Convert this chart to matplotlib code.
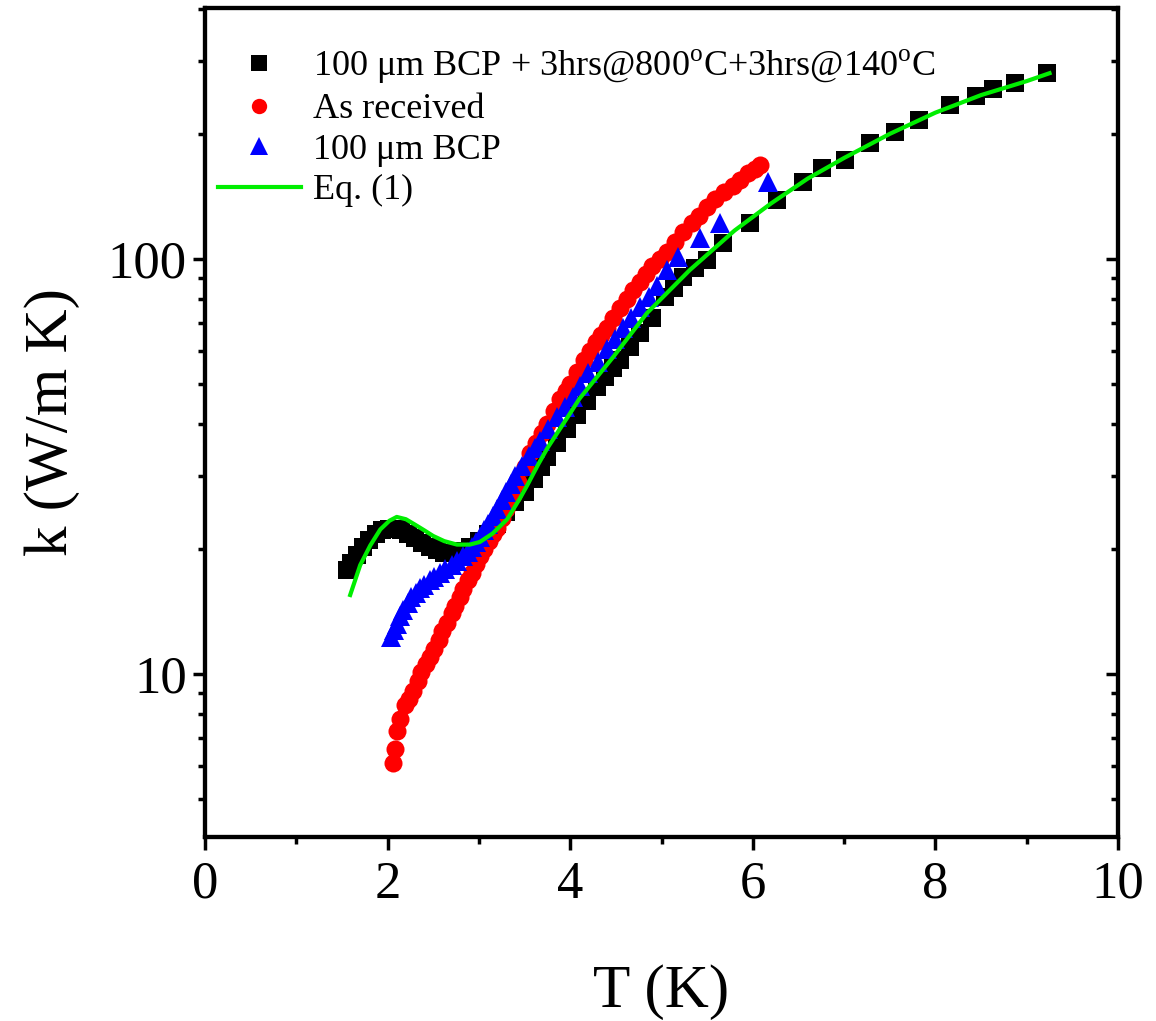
import matplotlib
matplotlib.use("Agg")
import matplotlib.pyplot as plt
from matplotlib.ticker import MultipleLocator, LogLocator, NullFormatter, FixedLocator, FixedFormatter

plt.rcParams['font.family'] = ['Liberation Serif', 'DejaVu Serif']

# 100 um BCP + 3hrs@800C + 3hrs@140C (black squares)
t_black = [1.55, 1.60, 1.66, 1.73, 1.80, 1.87, 1.94, 2.01, 2.08, 2.15, 2.22, 2.30,
           2.38, 2.46, 2.54, 2.62, 2.70, 2.80, 2.90, 3.00, 3.10, 3.20, 3.30, 3.40,
           3.50, 3.60, 3.68, 3.75, 3.86, 3.96, 4.07, 4.18, 4.29, 4.38, 4.47, 4.55,
           4.66, 4.76, 4.90, 5.04, 5.14, 5.24, 5.37, 5.50, 5.67, 5.97, 6.27, 6.55,
           6.76, 7.01, 7.28, 7.56, 7.82, 8.16, 8.44, 8.63, 8.87, 9.22]
k_black = [17.8, 18.5, 19.3, 20.2, 21.0, 21.7, 22.2, 22.4, 22.4, 22.2, 21.8, 21.3,
           20.7, 20.2, 19.9, 19.6, 19.6, 19.8, 20.2, 20.9, 21.8, 23.0, 24.5, 26.0,
           27.5, 29.5, 31.5, 33.4, 36.0, 39.0, 42.0, 45.5, 49.2, 52.0, 54.5, 57.0,
           61.5, 66.3, 72.0, 81.0, 85.0, 90.5, 95.0, 99.4, 109, 122, 138.7, 153,
           165.6, 173, 190, 202, 216, 235, 247, 257, 265.6, 280.6]

# As received (red circles)
t_red = [2.06, 2.08, 2.10, 2.14, 2.19, 2.23, 2.28, 2.33, 2.37, 2.42, 2.46, 2.51,
         2.56, 2.60, 2.65, 2.70, 2.74, 2.79, 2.83, 2.88, 2.92, 2.97, 3.01, 3.06,
         3.11, 3.15, 3.20, 3.25, 3.30, 3.37, 3.43, 3.50, 3.56, 3.63, 3.69, 3.75,
         3.82, 3.89, 3.95, 4.00, 4.07, 4.15, 4.22, 4.28, 4.34, 4.40, 4.47, 4.55,
         4.62, 4.69, 4.76, 4.83, 4.90, 4.98, 5.06, 5.15, 5.24, 5.33, 5.41, 5.50,
         5.59, 5.69, 5.78, 5.86, 5.95, 6.02, 6.08]
k_red = [6.1, 6.6, 7.3, 7.8, 8.4, 8.7, 9.1, 9.6, 10.1, 10.6, 11.0, 11.5,
         12.1, 12.7, 13.3, 14.0, 14.6, 15.3, 16.0, 16.8, 17.5, 18.4, 19.2, 20.0,
         20.9, 21.7, 22.5, 23.7, 25.0, 27.0, 29.0, 31.5, 34.0, 36.0, 38.0, 40.0,
         43.0, 46.0, 48.0, 50.0, 53.5, 57.0, 60.0, 63.0, 65.5, 68.0, 72.0, 76.0,
         80.0, 84.0, 88.0, 92.0, 96.0, 100, 104, 110, 116, 122, 127, 133,
         139, 145, 150, 155, 161, 165, 168]

# 100 um BCP (blue triangles)
t_blue = [2.04, 2.07, 2.10, 2.14, 2.17, 2.22, 2.26, 2.31, 2.35, 2.40, 2.46, 2.51,
          2.57, 2.63, 2.70, 2.76, 2.83, 2.88, 2.92, 2.97, 3.01, 3.06, 3.10, 3.15,
          3.20, 3.25, 3.30, 3.35, 3.40, 3.47, 3.55, 3.61, 3.67, 3.76, 3.85, 3.94,
          4.03, 4.11, 4.20, 4.30, 4.40, 4.49, 4.58, 4.67, 4.76, 4.86, 4.95, 5.06,
          5.18, 5.42, 5.64, 6.17]
k_blue = [12.3, 12.8, 13.2, 13.8, 14.3, 14.8, 15.3, 15.7, 16.1, 16.4, 16.8, 17.1,
          17.5, 17.9, 18.3, 18.7, 19.2, 19.7, 20.2, 20.8, 21.4, 22.2, 23.0, 24.0,
          25.0, 26.2, 27.5, 28.7, 30.0, 31.7, 33.5, 35.0, 36.5, 39.0, 41.5, 44.0,
          46.5, 49.5, 53.0, 56.5, 60.5, 64.0, 68.0, 72.0, 76.5, 81.0, 86.0, 94.0,
          101, 112, 122, 153]

# Eq. (1) fit (green line)
t_fit = [1.59, 1.70, 1.81, 1.92, 2.02, 2.10, 2.20, 2.30, 2.40, 2.50, 2.62, 2.76,
         2.90, 3.01, 3.15, 3.31, 3.45, 3.53, 3.65, 3.75, 4.00, 4.10, 4.47, 4.84,
         5.31, 5.80, 6.20, 6.60, 7.00, 7.50, 8.00, 8.50, 9.00, 9.25]
k_fit = [15.5, 18.3, 20.4, 22.3, 23.4, 23.9, 23.6, 22.9, 22.2, 21.5, 20.9, 20.5,
         20.5, 20.8, 21.8, 23.6, 26.5, 28.5, 32.0, 35.0, 42.5, 46.0, 58.0, 74.0,
         94.0, 117, 136, 156, 175, 200, 225, 248, 268, 280]

labels = ['100 μm BCP + 3hrs@800$^{\\rm o}$C+3hrs@140$^{\\rm o}$C', 'As received',
          '100 μm BCP', 'Eq. (1)']

plt.rcParams['mathtext.fontset'] = 'custom'
plt.rcParams['mathtext.rm'] = 'Liberation Serif'

fig = plt.figure(figsize=(11.56, 10.21), dpi=100)
ax = fig.add_axes([205/1156, 1 - 837/1021, 913/1156, 829/1021])

ax.plot(t_black, k_black, 's', color='black', markersize=13, markeredgewidth=0, label=labels[0])
ax.plot(t_red, k_red, 'o', color='#ff0000', markersize=13, markeredgewidth=0, label=labels[1])
ax.plot(t_blue, k_blue, '^', color='#0000ff', markersize=15, markeredgewidth=0, label=labels[2])
ax.plot(t_fit, k_fit, '-', color='#00ee00', linewidth=3, label=labels[3])

ax.set_yscale('log')
ax.set_xlim(0, 10)
ax.set_ylim(4.05, 402)

ax.xaxis.set_major_locator(MultipleLocator(2))
ax.xaxis.set_minor_locator(MultipleLocator(1))
ax.yaxis.set_major_locator(FixedLocator([10, 100]))
ax.yaxis.set_major_formatter(FixedFormatter(['10', '100']))
ax.yaxis.set_minor_locator(LogLocator(base=10, subs=range(2, 10)))
ax.yaxis.set_minor_formatter(NullFormatter())

for s in ax.spines.values():
    s.set_linewidth(3)

ax.tick_params(axis='x', which='both', direction='out', top=False, labelsize=38, width=2.5, pad=8)
ax.tick_params(axis='x', which='major', length=9)
ax.tick_params(axis='x', which='minor', length=5)
ax.tick_params(axis='y', which='both', direction='out', right=False, labelsize=38, width=2.5, pad=4)
ax.tick_params(axis='y', which='major', length=9)
ax.tick_params(axis='y', which='minor', length=5)

# mirrored inward ticks on right
ax2 = ax.twinx()
ax2.set_yscale('log')
ax2.set_ylim(ax.get_ylim())
ax2.yaxis.set_major_locator(FixedLocator([10, 100]))
ax2.yaxis.set_minor_locator(LogLocator(base=10, subs=range(2, 10)))
ax2.tick_params(axis='y', which='both', direction='in', labelright=False, width=2.5)
ax2.tick_params(axis='y', which='major', length=9)
ax2.tick_params(axis='y', which='minor', length=5)
for s in ax2.spines.values():
    s.set_linewidth(3)

ax.set_xlabel('T (K)', fontsize=44, labelpad=40)
ax.set_ylabel('k (W/m K)', fontsize=44, labelpad=20)

ax.legend(loc='upper left', bbox_to_anchor=(0.014, 0.952), frameon=False,
          fontsize=26, borderaxespad=0, borderpad=0, handlelength=2.3,
          handletextpad=0.35, labelspacing=0.2, markerscale=0.85)

fig.savefig('out.png', dpi=100)
